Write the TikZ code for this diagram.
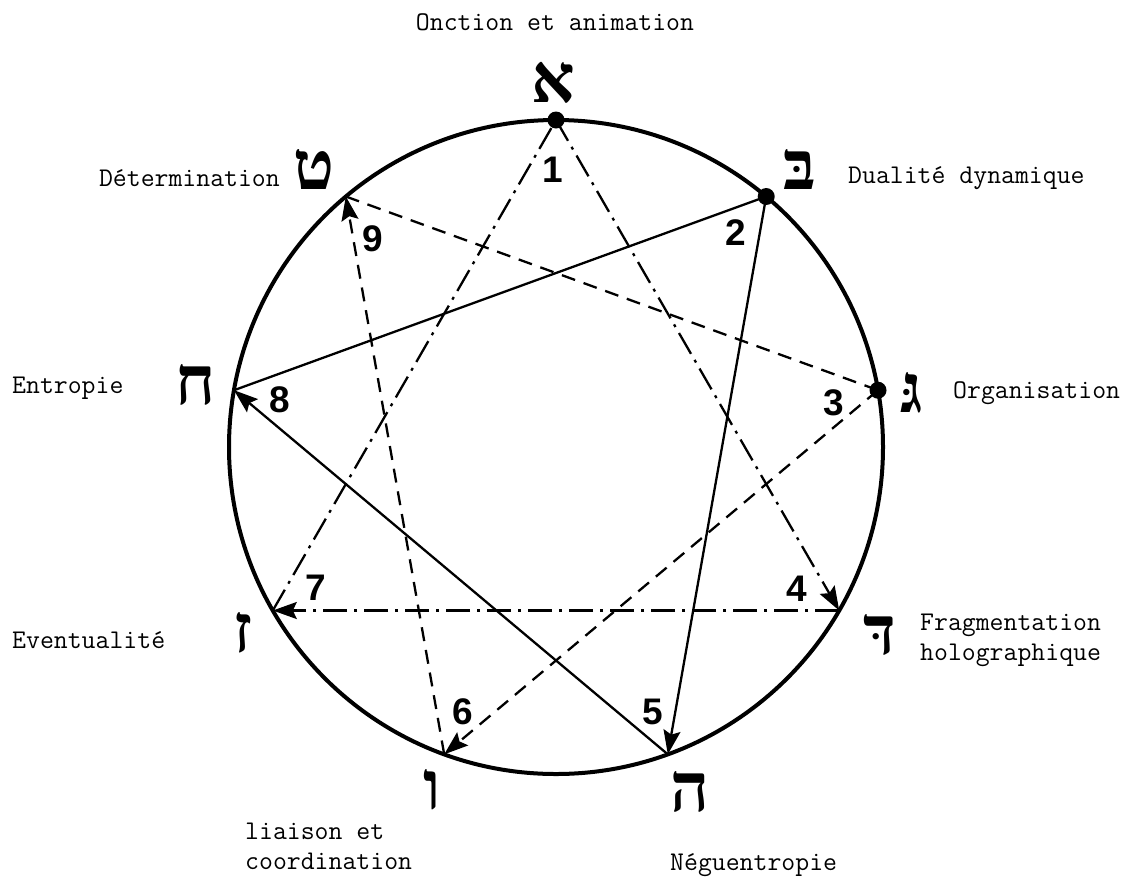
\documentclass[tikz,border=0pt]{standalone}
\usepackage{fontspec}
\newfontfamily\hebfont[Script=Hebrew]{Liberation Serif}
\newfontfamily\numfont{Liberation Sans}
\usetikzlibrary{arrows.meta}
\begin{document}
\begin{tikzpicture}[x=1pt,y=-1pt,
  heb/.style={font=\hebfont\bfseries\fontsize{68}{68}\selectfont, inner sep=0pt},
  num/.style={font=\numfont\bfseries\fontsize{37}{37}\selectfont, inner sep=0pt},
  lab/.style={font=\ttfamily\fontsize{27}{30}\selectfont, inner sep=0pt, align=left},
  conn/.style={line width=2.3pt},
  dashline/.style={conn, dash pattern=on 14pt off 9pt},
  dotdash/.style={conn, dash pattern=on 24pt off 7pt on 3pt off 7pt},
  tip/.style={-{Stealth[length=24pt,width=17pt,inset=4pt]}},
  dotpt/.style={circle, fill=black, inner sep=0pt, minimum size=17pt}]
\useasboundingbox (0,0) rectangle (1142,879);
\coordinate (C) at (556,447);
\draw[line width=4pt] (C) circle[radius=327pt];
% points
\coordinate (p1) at (556,120);
\coordinate (p2) at (766.2,196.5);
\coordinate (p3) at (878,390.2);
\coordinate (p4) at (839.2,610.5);
\coordinate (p5) at (667.8,754.3);
\coordinate (p6) at (444.2,754.3);
\coordinate (p7) at (272.8,610.5);
\coordinate (p8) at (234,390.2);
\coordinate (p9) at (345.8,196.5);
% triangle 1-4-7 (dash-dot)
\draw[dotdash,tip] (p1) -- (p4);
\draw[dotdash,tip] (p4) -- (p7);
\draw[dotdash] (p7) -- (p1);
% triangle 2-5-8 (solid)
\draw[conn,tip] (p2) -- (p5);
\draw[conn,tip] (p5) -- (p8);
\draw[conn] (p8) -- (p2);
% triangle 3-6-9 (dashed)
\draw[dashline,tip] (p3) -- (p6);
\draw[dashline,tip] (p6) -- (p9);
\draw[dashline] (p9) -- (p3);
% dots
\node[dotpt] (d1) at (p1) {};
\node[dotpt] (d2) at (p2) {};
\node[dotpt] (d3) at (p3) {};
% numbers
\node[num] (n1) at (553,170) {1};
\node[num] (n2) at (736,233) {2};
\node[num] (n3) at (834,403) {3};
\node[num] (n4) at (797,589) {4};
\node[num] (n5) at (653,712) {5};
\node[num] (n6) at (463,712) {6};
\node[num] (n7) at (316,588) {7};
\node[num] (n8) at (280,400) {8};
\node[num] (n9) at (373,239) {9};
% hebrew letters
\node[heb] (h1) at (553,83) {א};
\node[heb] (h2) at (800,170) {בּ};
\node[heb] (h3) at (912,393) {גּ};
\node[heb] (h4) at (880,635) {דּ};
\node[heb] (h5) at (690,792) {ה};
\node[heb] (h6) at (432,790) {ו};
\node[heb] (h7) at (243,633) {ז};
\node[heb] (h8) at (196,385) {ח};
\node[heb] (h9) at (314,170) {ט};
% labels
\node[lab] (t1) at (555,22) {Onction et animation};
\node[lab,anchor=west] (t2) at (848,178) {Dualité dynamique};
\node[lab,anchor=east] (t9) at (280,178) {Détermination};
\node[lab,anchor=west] (t3) at (953,393) {Organisation};
\node[lab,anchor=west] (t8) at (12,388) {Entropie};
\node[lab,anchor=west] (t4) at (920,640) {Fragmentation\\holographique};
\node[lab,anchor=west] (t7) at (12,640) {Eventualité};
\node[lab,anchor=west] (t6) at (245,846) {liaison et\\coordination};
\node[lab,anchor=west] (t5) at (670,865) {Néguentropie};
\end{tikzpicture}
\end{document}
